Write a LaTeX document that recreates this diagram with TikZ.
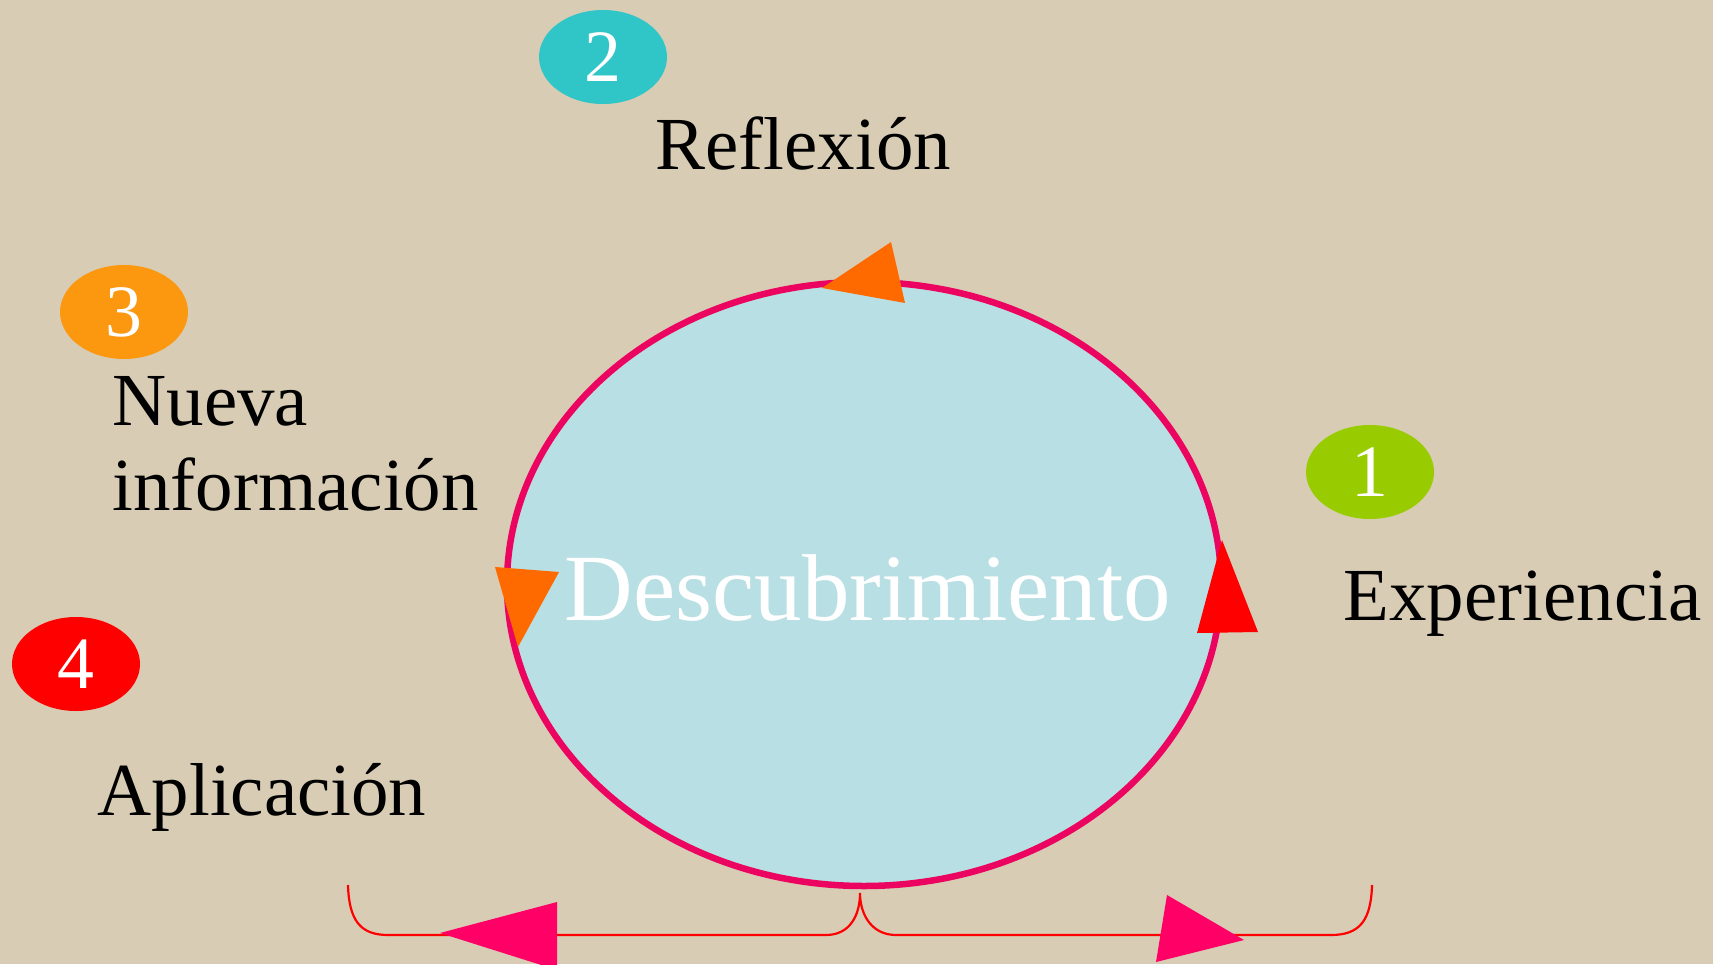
\documentclass[tikz,border=0pt]{standalone}
\usepackage{fontspec}
\setmainfont{Liberation Serif}
\usetikzlibrary{shapes.geometric}
\definecolor{bgbeige}{HTML}{D8CCB4}
\definecolor{discfill}{HTML}{B8DFE3}
\definecolor{discline}{HTML}{EC0560}
\definecolor{tealc}{HTML}{30C6C8}
\definecolor{orangec}{HTML}{FB9810}
\definecolor{greenc}{HTML}{99CC00}
\definecolor{redc}{HTML}{FF0000}
\definecolor{arroworange}{HTML}{FF6A00}
\definecolor{magentac}{HTML}{FF0066}
\newlength{\pxu}
\setlength{\pxu}{0.01cm}
\tikzset{
  numdisc/.style={ellipse, minimum width=128\pxu, minimum height=94\pxu, inner sep=0pt, text=white, font=\fontsize{21}{25}\selectfont},
  lbl/.style={anchor=base west, inner sep=0pt, text=black, font=\fontsize{21.3}{25}\selectfont},
  bracel/.style={draw=redc, line width=2.2\pxu},
}
\begin{document}
\begin{tikzpicture}[x=0.01cm,y=-0.01cm]
\fill[bgbeige] (0,0) rectangle (1713,964);
\useasboundingbox (0,0) rectangle (1713,964);
% main disc
\node[ellipse, draw=discline, line width=6.5\pxu, fill=discfill, minimum width=714\pxu, minimum height=604\pxu, inner sep=0pt] (disc) at (864,584) {};
\node[anchor=base, inner sep=0pt, text=white, font=\fontsize{27}{30}\selectfont] (desc) at (868,620) {Descubrimiento};
% arrowheads on the disc
\fill[arroworange] (891,242) -- (905,303) -- (822,288) -- cycle;
\fill[redc] (1222,540) -- (1197,633) -- (1258,632) -- cycle;
\fill[arroworange] (495,567) -- (559,572) -- (518,647) -- cycle;
% numbered discs
\node[numdisc, fill=tealc] (n2) at (603,57) {2};
\node[numdisc, fill=orangec] (n3) at (124,312) {3};
\node[numdisc, fill=greenc] (n1) at (1370,472) {1};
\node[numdisc, fill=redc] (n4) at (76,664) {4};
% labels
\node[lbl] (reflex) at (655,170) {Reflexión};
\node[lbl] (nueva) at (112,425) {Nueva};
\node[lbl] (info) at (112,510) {información};
\node[lbl] (exper) at (1343,620) {Experiencia};
\node[lbl] (aplic) at (97,815) {Aplicación};
% bottom brace
\coordinate (bl) at (348,885);
\coordinate (bm) at (860,893);
\coordinate (br) at (1372,885);
\draw[bracel] (bl) .. controls (349,920) and (360,935) .. (388,935) -- (826,935) .. controls (850,935) and (860,915) .. (bm)
  .. controls (860,915) and (872,935) .. (896,935) -- (1331,935) .. controls (1360,935) and (1371,920) .. (br);
% bottom arrows
\fill[magentac] (440,933) -- (557,902) -- (557,970) -- cycle;
\fill[magentac] (1244,940) -- (1167,895) -- (1156,962) -- cycle;
\end{tikzpicture}
\end{document}
